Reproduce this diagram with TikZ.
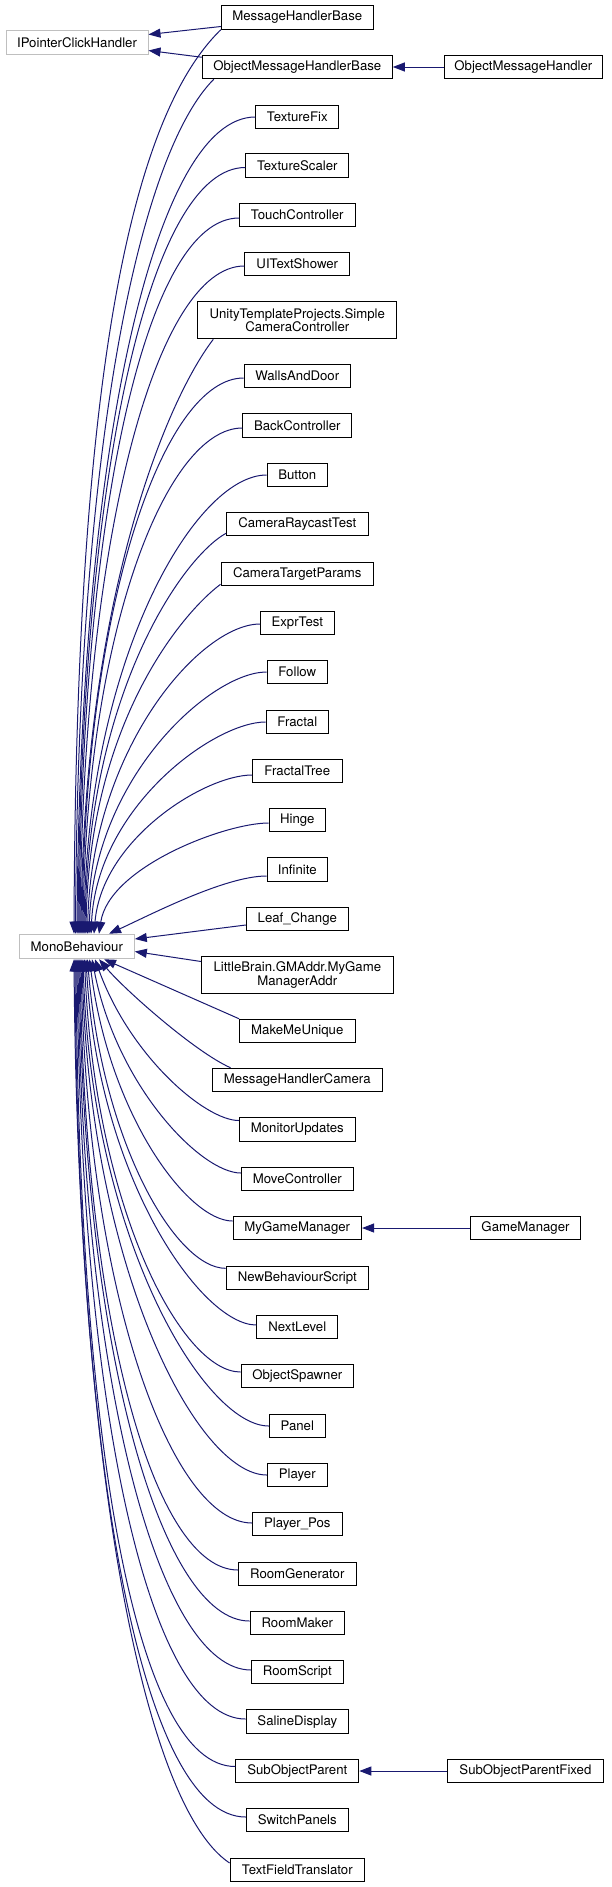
\documentclass[tikz,border=0pt]{standalone}
\usepackage{fontspec}
\setmainfont{TeX Gyre Heros}
\usetikzlibrary{arrows.meta,calc}
\definecolor{edgeblue}{HTML}{191970}
\definecolor{extgray}{HTML}{BFBFBF}
\begin{document}
\begin{tikzpicture}[x=1pt,y=-1pt,
  cls/.style={draw=black, fill=white, line width=1pt, inner sep=0pt, minimum height=23.5pt, align=center, font=\fontsize{13.2}{13.4}\selectfont},
  ext/.style={cls, draw=extgray},
  inh/.style={draw=edgeblue, line width=1pt, -{Triangle[length=12pt,width=9pt]}}]
\useasboundingbox (0,0) rectangle (611,1887);
% nodes
\node[ext, minimum width=142pt, minimum height=23.6pt] (ipch) at (77,42.5) {IPointerClickHandler};
\node[ext, minimum width=115pt, minimum height=24.5pt] (mono) at (76.8,946.5) {MonoBehaviour};
\node[cls, minimum width=152pt] (mhb) at (297.3,17.5) {MessageHandlerBase};
\node[cls, minimum width=190pt] (omhb) at (297.3,67) {ObjectMessageHandlerBase};
\node[cls, minimum width=158pt] (omh) at (523.4,67) {ObjectMessageHandler};
\node[cls, minimum width=83pt] (tfix) at (297.3,117) {TextureFix};
\node[cls, minimum width=103pt] (tscal) at (297.3,165.5) {TextureScaler};
\node[cls, minimum width=115.5pt] (touch) at (297.3,215) {TouchController};
\node[cls, minimum width=105pt] (uits) at (297.3,264) {UITextShower};
\node[cls, minimum width=199pt, minimum height=37pt] (unity) at (297.3,320.3) {UnityTemplateProjects.Simple\\CameraController};
\node[cls, minimum width=106.5pt] (walls) at (297.3,376) {WallsAndDoor};
\node[cls, minimum width=109pt] (back) at (297.3,425.5) {BackController};
\node[cls, minimum width=60.5pt] (button) at (297.3,475) {Button};
\node[cls, minimum width=141.5pt] (crt) at (297.3,524) {CameraRaycastTest};
\node[cls, minimum width=152.5pt] (ctp) at (297.3,574) {CameraTargetParams};
\node[cls, minimum width=73.5pt] (expr) at (297.3,623) {ExprTest};
\node[cls, minimum width=60.5pt] (follow) at (297.3,672) {Follow};
\node[cls, minimum width=62.5pt] (fractal) at (297.3,722) {Fractal};
\node[cls, minimum width=89.5pt] (ftree) at (297.3,771) {FractalTree};
\node[cls, minimum width=56.5pt] (hinge) at (297.3,820) {Hinge};
\node[cls, minimum width=60.5pt] (infinite) at (297.3,869.5) {Infinite};
\node[cls, minimum width=102pt] (leaf) at (297.3,919) {Leaf\_Change};
\node[cls, minimum width=191.5pt, minimum height=37pt] (little) at (297.3,975) {LittleBrain.GMAddr.MyGame\\ManagerAddr};
\node[cls, minimum width=115.5pt] (mmu) at (297.3,1031) {MakeMeUnique};
\node[cls, minimum width=169.5pt] (mhc) at (297.3,1080) {MessageHandlerCamera};
\node[cls, minimum width=116pt] (monitor) at (297.3,1129.5) {MonitorUpdates};
\node[cls, minimum width=112pt] (move) at (297.3,1179) {MoveController};
\node[cls, minimum width=128.5pt] (mygm) at (297.3,1228) {MyGameManager};
\node[cls, minimum width=110pt] (gm) at (525.5,1228) {GameManager};
\node[cls, minimum width=142.5pt] (nbs) at (297.3,1278) {NewBehaviourScript};
\node[cls, minimum width=81pt] (next) at (297.3,1327) {NextLevel};
\node[cls, minimum width=112.5pt] (spawn) at (297.3,1376) {ObjectSpawner};
\node[cls, minimum width=56pt] (panel) at (297.3,1426) {Panel};
\node[cls, minimum width=60pt] (player) at (297.3,1475) {Player};
\node[cls, minimum width=89.5pt] (ppos) at (297.3,1524) {Player\_Pos};
\node[cls, minimum width=117.5pt] (rgen) at (297.3,1574) {RoomGenerator};
\node[cls, minimum width=94.5pt] (rmaker) at (297.3,1623) {RoomMaker};
\node[cls, minimum width=91.5pt] (rscript) at (297.3,1672) {RoomScript};
\node[cls, minimum width=102.5pt] (saline) at (297.3,1721.5) {SalineDisplay};
\node[cls, minimum width=123pt] (sop) at (297.3,1771) {SubObjectParent};
\node[cls, minimum width=156.5pt] (sopf) at (525.4,1771) {SubObjectParentFixed};
\node[cls, minimum width=102pt] (switch) at (297.3,1820) {SwitchPanels};
\node[cls, minimum width=134.5pt] (tft) at (297.3,1870) {TextFieldTranslator};
% edges to IPointerClickHandler and horizontal ones
\draw[inh] ($(mhb.west)+(0,9)$) -- ($(ipch.east)+(0,-8)$);
\draw[inh] ($(omhb.north west)+(0,2.5)$) -- ($(ipch.east)+(0,8)$);
\draw[inh] (omh) -- (omhb);
\draw[inh] (gm) -- (mygm);
\draw[inh] (sopf) -- (sop);
% edges to MonoBehaviour, from above
\draw[inh] (mhb.south west) .. controls (130,118) and (76,380) .. ($(mono.north)+(-2.8,0)$);
\draw[inh] ($(omhb.south west)+(12,0)$) .. controls (144,149) and (78,420) .. ($(mono.north)+(-1.3,0)$);
\draw[inh] (tfix.west) .. controls (155.4,117) and (80,444) .. ($(mono.north)+(0.2,0)$);
\draw[inh] ($(tscal.west)+(0,2)$) .. controls (149.6,167.5) and (81,474) .. ($(mono.north)+(1.2,0)$);
\draw[inh] ($(touch.west)+(0,3)$) .. controls (147.3,218) and (82,504) .. ($(mono.north)+(2.2,0)$);
\draw[inh] ($(uits.west)+(0,2)$) .. controls (156.8,266) and (83,533) .. ($(mono.north)+(3.2,0)$);
\draw[inh] ($(unity.south west)+(16,0)$) .. controls (163.9,403.8) and (84,604) .. ($(mono.north)+(4.2,0)$);
\draw[inh] ($(walls.west)+(0,2)$) .. controls (164.6,378) and (85,600) .. ($(mono.north)+(5.2,0)$);
\draw[inh] ($(back.west)+(0,2.5)$) .. controls (166.9,428) and (86,630) .. ($(mono.north)+(6.2,0)$);
\draw[inh] (button.west) .. controls (195.1,475) and (87,659) .. ($(mono.north)+(7.2,0)$);
\draw[inh] ($(crt.south west)+(0,-3)$) .. controls (181.6,558) and (88,694) .. ($(mono.north)+(8.2,0)$);
\draw[inh] ($(ctp.south west)+(0,-2)$) .. controls (181,614) and (89,724) .. ($(mono.north)+(9.2,0)$);
\draw[inh] ($(expr.west)+(0,1)$) .. controls (200.5,624) and (91.5,748) .. ($(mono.north)+(10.7,0)$);
\draw[inh] (follow.west) .. controls (211.1,672) and (94,777) .. ($(mono.north)+(12.2,0)$);
\draw[inh] (fractal.west) .. controls (214.1,722) and (97,807) .. ($(mono.north)+(14.2,0)$);
\draw[inh] ($(ftree.west)+(0,4)$) .. controls (204.7,775) and (102,839) .. ($(mono.north)+(17.2,0)$);
\draw[inh] ($(hinge.west)+(0,3)$) .. controls (225.1,823) and (109,867) .. ($(mono.north)+(22.2,0)$);
\draw[inh] ($(infinite.west)+(0,6.5)$) .. controls (225,876) and (150,915) .. ($(mono.north)+(32.2,0)$);
% side edges
\draw[inh] ($(leaf.west)+(0,6)$) -- ($(mono.east)+(0,-7.5)$);
\draw[inh] ($(little.west)+(0,-13.5)$) -- ($(mono.east)+(0,5)$);
% edges to MonoBehaviour, from below
\draw[inh] (mmu.north west) -- ($(mono.south)+(27.2,0)$);
\draw[inh] ($(mhc.north west)+(18.5,0)$) .. controls (195,1052) and (125,990) .. ($(mono.south)+(22.2,0)$);
\draw[inh] ($(monitor.west)+(0,-9)$) .. controls (205,1120.5) and (130,1056) .. ($(mono.south)+(18.2,0)$);
\draw[inh] ($(move.west)+(0,-6)$) .. controls (201.3,1173) and (117,1087) .. ($(mono.south)+(15.2,0)$);
\draw[inh] ($(mygm.west)+(0,-7)$) .. controls (188.1,1221) and (109.5,1116) .. ($(mono.south)+(12.7,0)$);
\draw[inh] ($(nbs.west)+(0,-9.7)$) .. controls (176.1,1268.3) and (102.5,1144) .. ($(mono.south)+(10.7,0)$);
\draw[inh] ($(next.west)+(0,-2)$) .. controls (201.8,1325) and (98,1179) .. ($(mono.south)+(9.2,0)$);
\draw[inh] ($(spawn.west)+(0,-4)$) .. controls (181,1372) and (94.5,1207) .. ($(mono.south)+(7.7,0)$);
\draw[inh] (panel.west) .. controls (204.4,1426) and (91,1239) .. ($(mono.south)+(6.2,0)$);
\draw[inh] (player.west) .. controls (197.3,1475) and (89,1269) .. ($(mono.south)+(5.2,0)$);
\draw[inh] ($(ppos.west)+(0,-1)$) .. controls (172.5,1523) and (87,1297) .. ($(mono.south)+(4.2,0)$);
\draw[inh] ($(rgen.west)+(0,-4)$) .. controls (154.7,1570) and (85,1326) .. ($(mono.south)+(3.2,0)$);
\draw[inh] ($(rmaker.west)+(0,-2)$) .. controls (162.2,1621) and (84,1356) .. ($(mono.south)+(2.2,0)$);
\draw[inh] ($(rscript.west)+(0,-2)$) .. controls (159.5,1670) and (82,1386) .. ($(mono.south)+(1.2,0)$);
\draw[inh] ($(saline.west)+(0,-2.5)$) .. controls (150,1719) and (81,1415) .. ($(mono.south)+(0.2,0)$);
\draw[inh] ($(sop.west)+(0,-4.5)$) .. controls (135.7,1766.5) and (79,1444) .. ($(mono.south)+(-0.8,0)$);
\draw[inh] ($(switch.west)+(0,-3)$) .. controls (142.4,1817) and (78,1474) .. ($(mono.south)+(-1.8,0)$);
\draw[inh] ($(tft.west)+(0,-7)$) .. controls (140,1803) and (78,1450) .. ($(mono.south)+(-2.8,0)$);
\end{tikzpicture}
\end{document}
